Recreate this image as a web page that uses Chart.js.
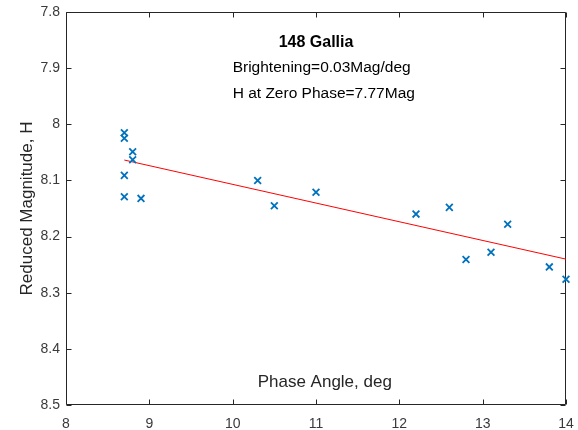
<!DOCTYPE html>
<html>
<head>
<meta charset="utf-8">
<script src="https://cdn.jsdelivr.net/npm/chart.js@4/dist/chart.umd.min.js"></script>
<style>
  html, body { margin: 0; padding: 0; background: #ffffff; }
  canvas { display: block; }
</style>
</head>
<body>
<canvas id="chart" width="578" height="430"></canvas>
<script>
// Phase-curve observations of asteroid 148 Gallia
const asteroidName = '148 Gallia';
const phaseAngle = [8.7, 8.7, 8.8, 8.8, 8.7, 8.7, 8.9, 10.3, 10.5, 11.0, 12.2, 12.6, 12.8, 13.1, 13.3, 13.8, 14.0];
const reducedMag = [8.015, 8.025, 8.049, 8.063, 8.091, 8.129, 8.132, 8.100, 8.145, 8.121, 8.160, 8.148, 8.241, 8.228, 8.178, 8.254, 8.276];

// Linear phase law: H(a) = hZeroPhase + brightening * a
const brightening = 0.0333; // mag / deg
const hZeroPhase = 7.774;   // mag

const xTicks = [8, 9, 10, 11, 12, 13, 14];
const xTickLabels = ['8', '9', '10', '11', '12', '13', '14'];
const yTicks = [7.8, 7.9, 8.0, 8.1, 8.2, 8.3, 8.4, 8.5];
const yTickLabels = ['7.8', '7.9', '8', '8.1', '8.2', '8.3', '8.4', '8.5'];

const xLabel = 'Phase Angle, deg';
const yLabel = 'Reduced Magnitude, H';
const annotationLines = [
  'Brightening=' + brightening.toFixed(2) + 'Mag/deg',
  'H at Zero Phase=' + hZeroPhase.toFixed(2) + 'Mag'
];

const observations = phaseAngle.map((a, i) => ({ x: a, y: reducedMag[i] }));
const aMin = Math.min(...phaseAngle);
const aMax = Math.max(...phaseAngle);
const fitLine = [aMin, aMax].map(a => ({ x: a, y: hZeroPhase + brightening * a }));

const FONT = '"Liberation Sans", Arial, Helvetica, sans-serif';
const AXIS_COLOR = '#262626';
const LABEL_COLOR = '#3a3a3a';

// Box, inward tick marks and the in-axes text
const framePlugin = {
  id: 'frame',
  beforeDatasetsDraw(chart) {
    const { ctx, chartArea: a, scales: { x, y } } = chart;
    const L = Math.round(a.left) + 0.5, R = Math.round(a.right) - 0.5;
    const T = Math.round(a.top) + 0.5, B = Math.round(a.bottom) - 0.5;
    const tick = 5;
    ctx.save();
    ctx.strokeStyle = AXIS_COLOR;
    ctx.lineWidth = 1;
    ctx.beginPath();
    ctx.rect(L, T, R - L, B - T);
    xTicks.forEach(v => {
      const px = Math.round(x.getPixelForValue(v)) + 0.5;
      ctx.moveTo(px, B); ctx.lineTo(px, B - tick);
      ctx.moveTo(px, T); ctx.lineTo(px, T + tick);
    });
    yTicks.forEach(v => {
      const py = Math.round(y.getPixelForValue(v)) + 0.5;
      ctx.moveTo(L, py); ctx.lineTo(L + tick, py);
      ctx.moveTo(R, py); ctx.lineTo(R - tick, py);
    });
    ctx.stroke();
    ctx.restore();
  },
  afterDatasetsDraw(chart) {
    const { ctx, chartArea: a, scales: { x, y } } = chart;
    ctx.save();
    ctx.fillStyle = '#000000';
    ctx.textBaseline = 'alphabetic';

    // title
    ctx.font = 'bold 16px ' + FONT;
    ctx.textAlign = 'center';
    ctx.fillText(asteroidName, (a.left + a.right) / 2, y.getPixelForValue(7.862));

    // fit parameters
    ctx.font = '15.5px ' + FONT;
    ctx.textAlign = 'left';
    ctx.fillText(annotationLines[0], x.getPixelForValue(10), y.getPixelForValue(7.9075));
    ctx.fillText(annotationLines[1], x.getPixelForValue(10), y.getPixelForValue(7.9525));

    // axis labels
    ctx.font = '17px ' + FONT;
    ctx.fillStyle = AXIS_COLOR;
    ctx.fillText(xLabel, x.getPixelForValue(10.3), y.getPixelForValue(8.468));

    ctx.translate(31.5, (a.top + a.bottom) / 2);
    ctx.rotate(-Math.PI / 2);
    ctx.textAlign = 'center';
    ctx.fillText(yLabel, 0, 0);
    ctx.restore();
  }
};

new Chart(document.getElementById('chart'), {
  type: 'scatter',
  data: {
    datasets: [
      {
        label: 'Observations',
        data: observations,
        pointStyle: 'crossRot',
        pointRadius: 4.8,
        pointHoverRadius: 4.8,
        borderColor: '#0072BD',
        backgroundColor: '#0072BD',
        pointBorderWidth: 1.8,
        showLine: false,
        clip: false,
        order: 1
      },
      {
        label: 'Linear fit',
        data: fitLine,
        showLine: true,
        borderColor: '#FF0000',
        borderWidth: 1,
        pointRadius: 0,
        pointHoverRadius: 0,
        fill: false,
        order: 2
      }
    ]
  },
  options: {
    responsive: false,
    animation: false,
    events: [],
    layout: { padding: { left: 0, top: 12, right: 12, bottom: 0 } },
    plugins: {
      legend: { display: false },
      tooltip: { enabled: false },
      title: { display: false }
    },
    scales: {
      x: {
        type: 'linear',
        min: 8,
        max: 14,
        afterBuildTicks: s => { s.ticks = xTicks.map(v => ({ value: v })); },
        afterFit: s => { s.height = 25; s.paddingLeft = 0; s.paddingRight = 0; },
        grid: { display: false, drawTicks: false },
        border: { display: false },
        ticks: {
          autoSkip: false,
          maxRotation: 0,
          padding: 11,
          color: LABEL_COLOR,
          font: { family: FONT, size: 14 },
          callback: (v, i) => xTickLabels[i]
        }
      },
      y: {
        type: 'linear',
        reverse: true,
        min: 7.8,
        max: 8.5,
        afterBuildTicks: s => { s.ticks = yTicks.map(v => ({ value: v })); },
        afterFit: s => { s.width = 66; s.paddingTop = 0; s.paddingBottom = 0; },
        grid: { display: false, drawTicks: false },
        border: { display: false },
        ticks: {
          autoSkip: false,
          padding: 6,
          color: LABEL_COLOR,
          font: { family: FONT, size: 14 },
          callback: (v, i) => yTickLabels[i]
        }
      }
    }
  },
  plugins: [framePlugin]
});
</script>
</body>
</html>
